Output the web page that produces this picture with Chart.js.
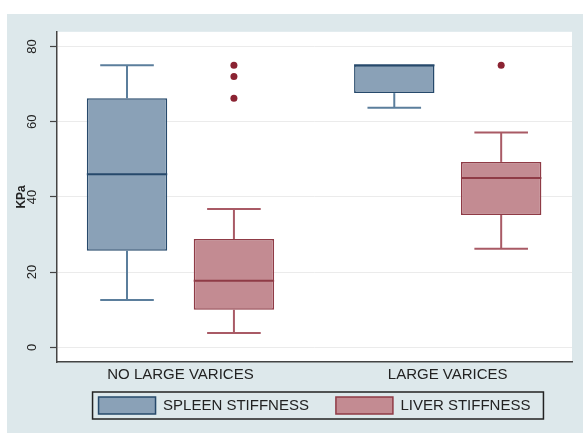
<!DOCTYPE html>
<html>
<head>
<meta charset="utf-8">
<script src="https://cdn.jsdelivr.net/npm/chart.js@4.4.1/dist/chart.umd.min.js"></script>
<style>
  html, body { margin: 0; padding: 0; background: #fff; }
  #frame { position: absolute; left: 7px; top: 14px; width: 576px; height: 419px; background: #dde8eb; }
  canvas { display: block; }
</style>
</head>
<body>
<div id="frame"><canvas id="chart" width="576" height="419"></canvas></div>
<script>
// --- Data (KPa) ---
const groups = ['NO LARGE VARICES', 'LARGE VARICES'];
const yTicks = [0, 20, 40, 60, 80];

const spleenMin = [12.6, 63.7];
const spleenQ1 = [25.7, 67.6];
const spleenMedian = [46, 75];
const spleenQ3 = [66.2, 75];
const spleenMax = [75, 75];
const spleenOutliers = [[], []];

const liverMin = [3.8, 26.2];
const liverQ1 = [10, 35.2];
const liverMedian = [17.7, 45];
const liverQ3 = [28.8, 49.3];
const liverMax = [36.8, 57.1];
const liverOutliers = [[66.2, 72, 75], [75]];

const series = [
    { label: 'SPLEEN STIFFNESS', min: spleenMin, q1: spleenQ1, median: spleenMedian, q3: spleenQ3, max: spleenMax, outliers: spleenOutliers,
      fill: '#8aa1b7', border: '#26496b', whisker: '#5b7e9c', dot: '#26496b' },
    { label: 'LIVER STIFFNESS', min: liverMin, q1: liverQ1, median: liverMedian, q3: liverQ3, max: liverMax, outliers: liverOutliers,
      fill: '#c38b92', border: '#8f3b46', whisker: '#a95a65', dot: '#8b2332' }
];

Chart.defaults.font.family = '"Liberation Sans", Arial, sans-serif';
Chart.defaults.color = '#222';

// --- Whiskers, medians, outliers and frames ---
const boxPlotExtras = {
    id: 'boxPlotExtras',
    afterLayout(chart) {
        // pull the legend up under the axis labels
        chart.legend.top -= 14;
        chart.legend.bottom -= 14;
    },
    beforeDraw(chart) {
        const { ctx, chartArea: a } = chart;
        ctx.save();
        ctx.fillStyle = '#fff';
        ctx.fillRect(a.left, a.top, a.right - a.left, a.bottom - a.top);
        ctx.restore();
    },
    afterDatasetsDraw(chart) {
        const ctx = chart.ctx;
        const y = chart.scales.y;
        const line = (x1, y1, x2, y2) => { ctx.beginPath(); ctx.moveTo(x1, y1); ctx.lineTo(x2, y2); ctx.stroke(); };
        series.forEach((s, i) => {
            chart.getDatasetMeta(i).data.forEach((bar, j) => {
                const cx = bar.x, half = bar.width / 2, cap = bar.width / 3;
                const pQ1 = y.getPixelForValue(s.q1[j]);
                const pQ3 = y.getPixelForValue(s.q3[j]);
                const pMin = y.getPixelForValue(s.min[j]);
                const pMax = y.getPixelForValue(s.max[j]);
                ctx.save();
                ctx.strokeStyle = s.whisker;
                ctx.lineWidth = 2;
                if (s.max[j] > s.q3[j]) { line(cx, pQ3, cx, pMax); line(cx - cap, pMax, cx + cap, pMax); }
                if (s.min[j] < s.q1[j]) { line(cx, pQ1, cx, pMin); line(cx - cap, pMin, cx + cap, pMin); }
                ctx.strokeStyle = s.border;
                ctx.lineWidth = 2;
                const pMed = y.getPixelForValue(s.median[j]);
                line(cx - half, pMed, cx + half, pMed);
                ctx.fillStyle = s.dot;
                s.outliers[j].forEach(v => {
                    ctx.beginPath();
                    ctx.arc(cx, y.getPixelForValue(v), 3.5, 0, Math.PI * 2);
                    ctx.fill();
                });
                ctx.restore();
            });
        });
    },
    afterDraw(chart) {
        const boxes = chart.legend.legendHitBoxes;
        if (!boxes || !boxes.length) return;
        const first = boxes[0], last = boxes[boxes.length - 1];
        const ctx = chart.ctx;
        ctx.save();
        ctx.strokeStyle = '#222';
        ctx.lineWidth = 1.5;
        const left = first.left - 6, right = last.left + last.width + 13;
        const top = first.top - 5, bottom = first.top + first.height + 5;
        ctx.strokeRect(left, top, right - left, bottom - top);
        ctx.restore();
    }
};

const ctx = document.getElementById('chart').getContext('2d');
new Chart(ctx, {
    type: 'bar',
    data: {
        datasets: series.map(s => ({
            label: s.label,
            data: groups.map((g, j) => ({ x: j + 1, y: [s.q1[j], s.q3[j]] })),
            backgroundColor: s.fill,
            borderColor: s.border,
            borderWidth: 1.5,
            borderSkipped: false,
            categoryPercentage: 0.8,
            barPercentage: 0.752
        }))
    },
    options: {
        responsive: false,
        devicePixelRatio: 1,
        animation: false,
        layout: { padding: { top: 12, right: 11, bottom: -5, left: 0 } },
        plugins: {
            tooltip: { enabled: false },
            legend: {
                position: 'bottom',
                fullSize: false,
                labels: { boxWidth: 57, boxHeight: 17, padding: 27, font: { size: 15 }, color: '#222' }
            }
        },
        scales: {
            x: {
                type: 'linear',
                offset: false,
                min: 0.538,
                max: 2.465,
                afterBuildTicks: (scale) => { scale.ticks = groups.map((g, j) => ({ value: j + 1 })); },
                afterFit: (scale) => { scale.height = 22; },
                ticks: {
                    callback: (v) => groups[v - 1],
                    font: { size: 15 },
                    color: '#222',
                    padding: 4,
                    maxRotation: 0
                },
                grid: { display: false, drawTicks: false, offset: false },
                border: { display: true, color: '#444', width: 1.5 }
            },
            y: {
                min: -3.9,
                max: 83.9,
                afterBuildTicks: (scale) => { scale.ticks = yTicks.map(v => ({ value: v })); },
                afterFit: (scale) => { scale.width = 50; },
                title: { display: true, text: 'KPa', font: { size: 12, weight: 'bold' }, color: '#222', padding: { top: 7, bottom: 0 } },
                ticks: {
                    minRotation: 90,
                    maxRotation: 90,
                    crossAlign: 'center',
                    padding: 10,
                    font: { size: 13 },
                    color: '#222'
                },
                grid: { color: '#ebebeb', lineWidth: 1, tickLength: 7, tickColor: '#444', tickWidth: 1.2 },
                border: { color: '#444', width: 1.5 }
            }
        }
    },
    plugins: [boxPlotExtras]
});
</script>
</body>
</html>
